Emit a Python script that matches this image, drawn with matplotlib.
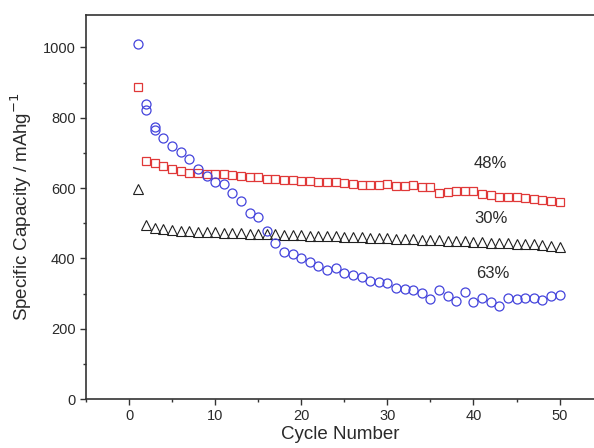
import matplotlib
matplotlib.use("Agg")
import matplotlib.pyplot as plt
from matplotlib.ticker import MultipleLocator

plt.rcParams['font.family'] = ['Liberation Sans', 'DejaVu Sans']

# --- data ---
cycles = list(range(1, 51))

red_48 = [886, 676, 670, 662, 655, 648, 644, 642, 640, 640,
          639, 637, 635, 632, 630, 627, 625, 623, 622, 620,
          619, 618, 617, 616, 614, 612, 610, 608, 608, 611,
          607, 605, 608, 603, 603, 586, 588, 592, 593, 591,
          582, 579, 575, 574, 574, 572, 570, 567, 564, 561]

black_30 = [598, 494, 487, 483, 480, 478, 477, 476, 475, 474,
            473, 472, 471, 470, 470, 469, 468, 467, 467, 466,
            465, 464, 464, 463, 462, 461, 460, 459, 458, 457,
            456, 455, 454, 453, 452, 451, 450, 449, 448, 447,
            446, 445, 444, 443, 442, 441, 440, 438, 436, 433]

blue_cycles = [1, 2, 2, 3, 3] + list(range(4, 51))
blue_63 = [1009, 839, 822, 774, 766, 743, 719, 702, 684, 654,
           634, 618, 611, 586, 564, 529, 518, 478, 445, 418,
           413, 402, 390, 378, 366, 372, 359, 352, 346, 337,
           334, 330, 317, 314, 311, 301, 283, 311, 292, 279,
           303, 276, 288, 276, 264, 288, 283, 287, 287, 281,
           293, 297]

labels = ["48%", "30%", "63%"]
label_x = [42, 42, 42.3]
label_y = [670, 512, 356]

# --- figure ---
fig = plt.figure(figsize=(5.94, 4.48), dpi=100)
ax = fig.add_axes([86/594, 49/448, 1 - 86/594, (399 - 14.7)/448])

ax.plot(cycles, red_48, linestyle='none', marker='s', markersize=6,
        markerfacecolor='none', markeredgecolor='#e03838', markeredgewidth=0.9)
ax.plot(cycles, black_30, linestyle='none', marker='^', markersize=7,
        markerfacecolor='none', markeredgecolor='#202020', markeredgewidth=0.8)
ax.plot(blue_cycles, blue_63, linestyle='none', marker='o', markersize=6.5,
        markerfacecolor='none', markeredgecolor='#4444dc', markeredgewidth=0.9)

for t, x, y in zip(labels, label_x, label_y):
    ax.text(x, y, t, ha='center', va='center', fontsize=12, color='#2a2a2a')

ax.set_xlim(-5, 54)
ax.set_ylim(0, 1093)
ax.xaxis.set_major_locator(MultipleLocator(10))
ax.xaxis.set_minor_locator(MultipleLocator(5))
ax.yaxis.set_major_locator(MultipleLocator(200))
ax.yaxis.set_minor_locator(MultipleLocator(100))

ax.spines['right'].set_visible(False)
for s in ['left', 'bottom', 'top']:
    ax.spines[s].set_linewidth(1.2)
    ax.spines[s].set_color('#333333')

ax.tick_params(which='major', direction='out', length=4, width=1.0,
               labelsize=10.5, colors='#333333', top=False, right=False)
ax.tick_params(which='minor', direction='out', length=2.5, width=1.0,
               colors='#333333', top=False, right=False)
ax.tick_params(axis='x', labelcolor='#2a2a2a')
ax.tick_params(axis='y', labelcolor='#2a2a2a')

ax.set_xlabel('Cycle Number', fontsize=13.5, color='#2a2a2a', labelpad=2)
ax.set_ylabel('Specific Capacity / mAhg$^{-1}$', fontsize=13.5, color='#2a2a2a', labelpad=6)

fig.savefig('out.png', dpi=100)
